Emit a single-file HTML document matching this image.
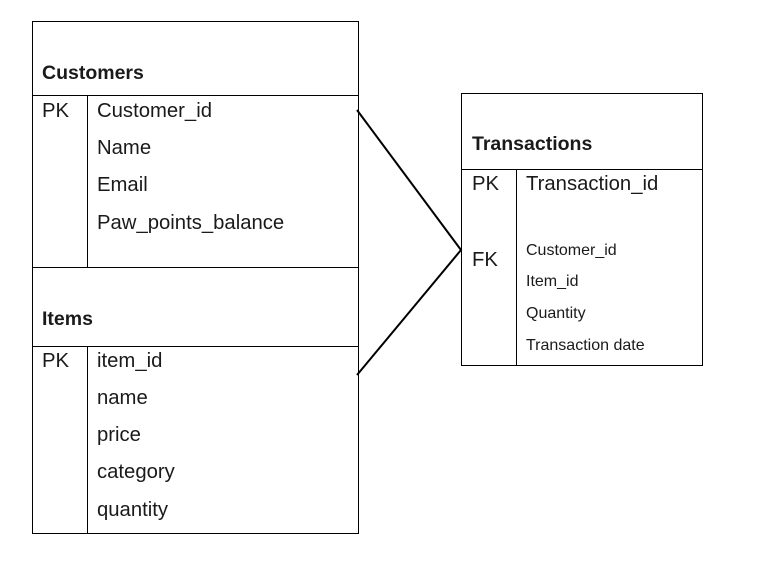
<!DOCTYPE html>
<html><head><style>html,body{margin:0;padding:0;background:#fff}svg{display:block}</style></head>
<body>
<svg width="767" height="563" viewBox="0 0 767 563" xmlns="http://www.w3.org/2000/svg" font-family="Liberation Sans, sans-serif" fill="#1a1a1a">
<g fill="none" stroke="#000" stroke-width="1">
<rect x="32.5" y="21.5" width="326" height="246"/>
<line x1="32" y1="95.5" x2="358" y2="95.5"/>
<line x1="87.5" y1="95" x2="87.5" y2="267"/>
<rect x="32.5" y="267.5" width="326" height="266"/>
<line x1="32" y1="346.5" x2="358" y2="346.5"/>
<line x1="87.5" y1="346" x2="87.5" y2="533"/>
<rect x="461.5" y="93.5" width="241" height="272"/>
<line x1="461" y1="169.5" x2="702" y2="169.5"/>
<line x1="516.5" y1="169" x2="516.5" y2="366"/>
</g>
<polyline points="357,110 461,250 357,375" fill="none" stroke="#000" stroke-width="2"/>
<g font-weight="bold" font-size="19.5">
<text x="42" y="79">Customers</text>
<text x="42" y="325">Items</text>
<text x="472" y="150">Transactions</text>
</g>
<g font-size="20.3">
<text x="42" y="117">PK</text>
<text x="97" y="117">Customer_id</text>
<text x="97" y="154">Name</text>
<text x="97" y="191">Email</text>
<text x="97" y="229">Paw_points_balance</text>
<text x="42" y="367">PK</text>
<text x="97" y="367">item_id</text>
<text x="97" y="404">name</text>
<text x="97" y="441">price</text>
<text x="97" y="478">category</text>
<text x="97" y="516">quantity</text>
<text x="472" y="190">PK</text>
<text x="526" y="190">Transaction_id</text>
<text x="472" y="266">FK</text>
</g>
<g font-size="16">
<text x="526" y="255">Customer_id</text>
<text x="526" y="286">Item_id</text>
<text x="526" y="318">Quantity</text>
<text x="526" y="350">Transaction date</text>
</g>
</svg>
</body></html>
